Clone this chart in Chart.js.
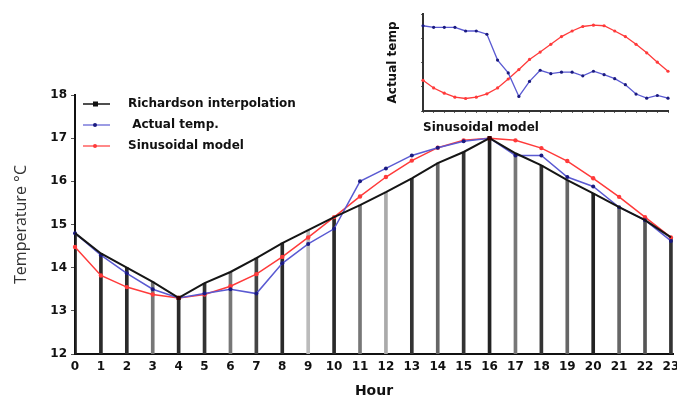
<!DOCTYPE html>
<html>
<head>
<meta charset="utf-8">
<script src="https://cdn.jsdelivr.net/npm/chart.js@4.4.1/dist/chart.umd.min.js"></script>
<style>
  html, body { margin: 0; padding: 0; background: #fff; }
  #wrap { position: relative; width: 677px; height: 400px; }
  #mainChart { position: absolute; left: 0; top: 0; }
  #insetChart { position: absolute; left: 375px; top: 0; }
</style>
</head>
<body>
<div id="wrap">
  <canvas id="mainChart" width="677" height="400"></canvas>
  <canvas id="insetChart" width="302" height="135"></canvas>
</div>
<script>
// hours of the day
const hours = [0, 1, 2, 3, 4, 5, 6, 7, 8, 9, 10, 11, 12, 13, 14, 15, 16, 17, 18, 19, 20, 21, 22, 23];
const yTicks = [12, 13, 14, 15, 16, 17, 18];

// main chart series (°C)
const richardson = [14.8, 14.33, 14.0, 13.67, 13.3, 13.64, 13.9, 14.22, 14.57, 14.87, 15.17, 15.45,
                    15.75, 16.07, 16.42, 16.68, 17.0, 16.65, 16.37, 16.03, 15.72, 15.4, 15.1, 14.7];
const actualTemp = [14.8, 14.29, 13.87, 13.5, 13.3, 13.4, 13.5, 13.4, 14.1, 14.55, 14.9, 16.0,
                    16.3, 16.6, 16.78, 16.93, 17.0, 16.6, 16.6, 16.1, 15.88, 15.4, 15.1, 14.62];
const sinusoidal = [14.48, 13.82, 13.55, 13.38, 13.3, 13.38, 13.57, 13.85, 14.25, 14.7, 15.17, 15.65,
                    16.1, 16.48, 16.78, 16.95, 17.0, 16.95, 16.77, 16.47, 16.07, 15.64, 15.17, 14.7];

// inset series (unlabelled axis units)
const insetActual = [7.03, 6.9, 6.9, 6.9, 6.6, 6.6, 6.33, 4.2, 3.14, 1.2, 2.44, 3.36,
                     3.08, 3.2, 3.2, 2.9, 3.28, 3.0, 2.67, 2.17, 1.4, 1.06, 1.28, 1.06];
const insetSinus = [2.53, 1.9, 1.47, 1.14, 1.03, 1.14, 1.42, 1.9, 2.64, 3.42, 4.25, 4.86,
                    5.5, 6.14, 6.6, 6.97, 7.08, 7.03, 6.6, 6.14, 5.5, 4.8, 4.03, 3.28];

const legendLabels = ["Richardson interpolation", " Actual temp.", "Sinusoidal model"];

const BLACK = "#151515";
const BLUE = "#5a5ad2";
const RED = "#ff3a3a";
const FONT = "'DejaVu Sans', Verdana, sans-serif";

function pts(values) {
    return hours.map((h, i) => ({ x: h, y: values[i] }));
}

// shades of the vertical bars vary in the original
const barShades = ["#222", "#2a2a2a", "#2a2a2a", "#777", "#2a2a2a", "#333", "#777", "#444", "#2a2a2a",
                   "#bbb", "#2a2a2a", "#777", "#aaa", "#333", "#666", "#333", "#222", "#777",
                   "#333", "#666", "#222", "#666", "#555", "#333"];

// legend drawn inside the plot area, like the original
const innerLegend = {
    id: "innerLegend",
    afterDatasetsDraw(chart) {
        const ctx = chart.ctx;
        const a = chart.chartArea;
        const items = [
            { color: BLACK, mark: "#111", square: true },
            { color: BLUE, mark: "#1a1a80", square: false },
            { color: RED, mark: RED, square: false }
        ];
        ctx.save();
        items.forEach((it, i) => {
            const y = a.top + 9 + i * 21;
            ctx.strokeStyle = it.color;
            ctx.lineWidth = it.square ? 1.5 : 1.2;
            ctx.beginPath();
            ctx.moveTo(a.left + 8, y);
            ctx.lineTo(a.left + 35, y);
            ctx.stroke();
            ctx.fillStyle = it.mark;
            if (it.square) {
                ctx.fillRect(a.left + 18, y - 2.5, 5, 5);
            } else {
                ctx.beginPath();
                ctx.arc(a.left + 20, y, 2, 0, Math.PI * 2);
                ctx.fill();
            }
            ctx.fillStyle = "#111";
            ctx.font = "bold 12px " + FONT;
            ctx.textBaseline = "middle";
            ctx.fillText(legendLabels[i], a.left + 53, y);
        });
        ctx.restore();
    }
};

new Chart(document.getElementById("mainChart"), {
    type: "bar",
    data: {
        datasets: [
            {
                type: "line",
                label: legendLabels[0],
                data: pts(richardson),
                borderColor: BLACK,
                borderWidth: 2,
                pointStyle: "rect",
                pointRadius: c => (c.dataIndex === 4 || c.dataIndex === 16) ? 3 : 0,
                pointBackgroundColor: "#300",
                pointBorderWidth: 0,
                clip: false,
                order: 1
            },
            {
                type: "line",
                label: legendLabels[1],
                data: pts(actualTemp),
                borderColor: BLUE,
                borderWidth: 1.5,
                pointRadius: 2,
                pointBackgroundColor: "#1a1a80",
                pointBorderWidth: 0,
                clip: false,
                order: 2
            },
            {
                type: "line",
                label: legendLabels[2],
                data: pts(sinusoidal),
                borderColor: RED,
                borderWidth: 1.5,
                pointRadius: 2.2,
                pointBackgroundColor: RED,
                pointBorderWidth: 0,
                clip: false,
                order: 3
            },
            {
                type: "bar",
                label: "bars",
                data: pts(richardson),
                backgroundColor: barShades,
                barThickness: 3,
                order: 4
            }
        ]
    },
    options: {
        responsive: false,
        animation: false,
        layout: { padding: { top: 95, right: 0, left: 0, bottom: 0 } },
        plugins: { legend: { display: false }, tooltip: { enabled: false } },
        scales: {
            x: {
                type: "linear",
                offset: false,
                min: 0,
                max: 23.08,
                afterBuildTicks: s => { s.ticks = hours.map(h => ({ value: h })); },
                afterFit: s => { s.height = 46; s.paddingRight = 0; s.paddingLeft = 0; },
                ticks: {
                    stepSize: 1,
                    autoSkip: false,
                    maxRotation: 0,
                    padding: 6,
                    color: "#111",
                    font: { family: FONT, size: 12, weight: "bold" }
                },
                grid: { display: true, offset: false, drawOnChartArea: false, drawTicks: false },
                border: { color: "#111", width: 2 },
                title: {
                    display: true,
                    text: "Hour",
                    color: "#111",
                    padding: { top: 2, bottom: 0 },
                    font: { family: FONT, size: 14, weight: "bold" }
                }
            },
            y: {
                min: 12,
                max: 18,
                afterBuildTicks: s => { s.ticks = yTicks.map(v => ({ value: v })); },
                afterFit: s => { s.width = 75; },
                ticks: {
                    padding: 4,
                    color: "#111",
                    font: { family: FONT, size: 12, weight: "bold" }
                },
                grid: { drawOnChartArea: false, tickLength: 4, color: "#555" },
                border: { color: "#111", width: 2 },
                title: {
                    display: true,
                    text: "Temperature \u00B0C",
                    color: "#333",
                    padding: { top: 12, bottom: 4 },
                    font: { family: "'Open Sans', sans-serif", size: 16 }
                }
            }
        }
    },
    plugins: [innerLegend]
});

new Chart(document.getElementById("insetChart"), {
    type: "line",
    data: {
        datasets: [
            {
                label: "Actual temp",
                data: pts(insetActual),
                borderColor: BLUE,
                borderWidth: 1.3,
                pointRadius: 1.6,
                pointBackgroundColor: "#1a1a80",
                pointBorderWidth: 0,
                clip: false
            },
            {
                label: "Sinusoidal model",
                data: pts(insetSinus),
                borderColor: RED,
                borderWidth: 1.3,
                pointRadius: 1.6,
                pointBackgroundColor: RED,
                pointBorderWidth: 0,
                clip: false
            }
        ]
    },
    options: {
        responsive: false,
        animation: false,
        layout: { padding: { top: 14, right: 9, left: 0, bottom: 0 } },
        plugins: { legend: { display: false }, tooltip: { enabled: false } },
        scales: {
            x: {
                type: "linear",
                min: 0,
                max: 23,
                afterBuildTicks: s => { s.ticks = hours.map(h => ({ value: h })); },
                afterFit: s => { s.height = 24; },
                ticks: { callback: () => "", padding: 0 },
                grid: { drawOnChartArea: false, tickLength: 2, color: "#666" },
                border: { color: "#333", width: 2 },
                title: {
                    display: true,
                    text: "Sinusoidal model",
                    align: "start",
                    color: "#111",
                    padding: { top: 2, bottom: 0 },
                    font: { family: FONT, size: 12, weight: "bold" }
                }
            },
            y: {
                min: 0,
                max: 8,
                afterBuildTicks: s => { s.ticks = [0, 1, 2, 3, 4, 5, 6, 7, 8].map(v => ({ value: v })); },
                afterFit: s => { s.width = 48; },
                ticks: { callback: () => "", padding: 0 },
                grid: { drawOnChartArea: false, tickLength: 2, color: "#666" },
                border: { color: "#333", width: 2 },
                title: {
                    display: true,
                    text: "Actual temp",
                    color: "#111",
                    padding: { top: 11, bottom: 4 },
                    font: { family: FONT, size: 12, weight: "bold" }
                }
            }
        }
    }
});
</script>
</body>
</html>
